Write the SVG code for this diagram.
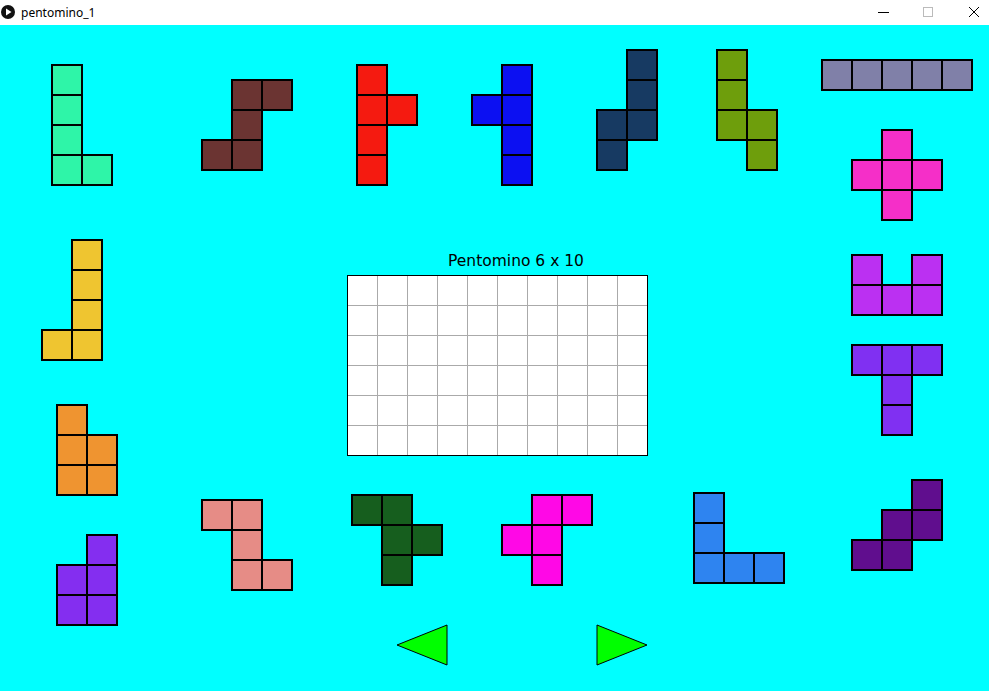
<svg xmlns="http://www.w3.org/2000/svg" width="989" height="691" viewBox="0 0 989 691">
<style>
.c{stroke:#000;stroke-width:2}
.g{stroke:#aaaaaa;stroke-width:1}
.t{font-family:"DejaVu Sans","Liberation Sans",sans-serif;font-size:15.5px;fill:#000}
.tb{font-family:"Segoe UI","Noto Sans","Liberation Sans",sans-serif;font-size:12px;fill:#000}
.btn{fill:#00ff00;stroke:#000;stroke-width:1}
</style>
<defs>
<rect id="cell" width="30" height="30"/>
</defs>
<!-- title bar -->
<g id="titlebar">
<rect x="0" y="0" width="989" height="25" fill="#fff"/>
<circle cx="8" cy="12" r="7" fill="#111"/>
<polygon points="6,8.5 6,15.5 11.5,12" fill="#fff"/>
<text class="tb" x="21" y="16.5">pentomino_1</text>
<line x1="878" y1="12.5" x2="889" y2="12.5" stroke="#000" stroke-width="1"/>
<rect x="923.5" y="7.5" width="9" height="9" fill="none" stroke="#bbb" stroke-width="1"/>
<path d="M969,7 L979,17 M979,7 L969,17" stroke="#000" stroke-width="1"/>
</g>
<rect x="0" y="25" width="989" height="666" fill="#00ffff"/>
<!-- board -->
<g id="board">
<text class="t" x="516" y="266" text-anchor="middle">Pentomino 6 x 10</text>
<rect x="347.5" y="275.5" width="300" height="180" fill="#fff"/>
<g class="g">
<line x1="377.5" y1="275.5" x2="377.5" y2="455.5"/>
<line x1="407.5" y1="275.5" x2="407.5" y2="455.5"/>
<line x1="437.5" y1="275.5" x2="437.5" y2="455.5"/>
<line x1="467.5" y1="275.5" x2="467.5" y2="455.5"/>
<line x1="497.5" y1="275.5" x2="497.5" y2="455.5"/>
<line x1="527.5" y1="275.5" x2="527.5" y2="455.5"/>
<line x1="557.5" y1="275.5" x2="557.5" y2="455.5"/>
<line x1="587.5" y1="275.5" x2="587.5" y2="455.5"/>
<line x1="617.5" y1="275.5" x2="617.5" y2="455.5"/>
<line x1="347.5" y1="305.5" x2="647.5" y2="305.5"/>
<line x1="347.5" y1="335.5" x2="647.5" y2="335.5"/>
<line x1="347.5" y1="365.5" x2="647.5" y2="365.5"/>
<line x1="347.5" y1="395.5" x2="647.5" y2="395.5"/>
<line x1="347.5" y1="425.5" x2="647.5" y2="425.5"/>
</g>
<rect x="347.5" y="275.5" width="300" height="180" fill="none" stroke="#000" stroke-width="1"/>
</g>
<!-- pieces -->
<g id="piece-L-teal" class="c" fill="#2ef5a8">
<use href="#cell" x="52" y="65"/><use href="#cell" x="52" y="95"/><use href="#cell" x="52" y="125"/><use href="#cell" x="52" y="155"/><use href="#cell" x="82" y="155"/>
</g>
<g id="piece-brown" class="c" fill="#6b3432">
<use href="#cell" x="232" y="80"/><use href="#cell" x="262" y="80"/><use href="#cell" x="232" y="110"/><use href="#cell" x="202" y="140"/><use href="#cell" x="232" y="140"/>
</g>
<g id="piece-red" class="c" fill="#f51a10">
<use href="#cell" x="357" y="65"/><use href="#cell" x="357" y="95"/><use href="#cell" x="387" y="95"/><use href="#cell" x="357" y="125"/><use href="#cell" x="357" y="155"/>
</g>
<g id="piece-blue" class="c" fill="#0c10f2">
<use href="#cell" x="502" y="65"/><use href="#cell" x="472" y="95"/><use href="#cell" x="502" y="95"/><use href="#cell" x="502" y="125"/><use href="#cell" x="502" y="155"/>
</g>
<g id="piece-navy" class="c" fill="#173a62">
<use href="#cell" x="627" y="50"/><use href="#cell" x="627" y="80"/><use href="#cell" x="597" y="110"/><use href="#cell" x="627" y="110"/><use href="#cell" x="597" y="140"/>
</g>
<g id="piece-olive" class="c" fill="#6e9e0c">
<use href="#cell" x="717" y="50"/><use href="#cell" x="717" y="80"/><use href="#cell" x="717" y="110"/><use href="#cell" x="747" y="110"/><use href="#cell" x="747" y="140"/>
</g>
<g id="piece-grey" class="c" fill="#8080a8">
<use href="#cell" x="822" y="60"/><use href="#cell" x="852" y="60"/><use href="#cell" x="882" y="60"/><use href="#cell" x="912" y="60"/><use href="#cell" x="942" y="60"/>
</g>
<g id="piece-pink" class="c" fill="#f52fc8">
<use href="#cell" x="882" y="130"/><use href="#cell" x="852" y="160"/><use href="#cell" x="882" y="160"/><use href="#cell" x="912" y="160"/><use href="#cell" x="882" y="190"/>
</g>
<g id="piece-yellow" class="c" fill="#efc530">
<use href="#cell" x="72" y="240"/><use href="#cell" x="72" y="270"/><use href="#cell" x="72" y="300"/><use href="#cell" x="42" y="330"/><use href="#cell" x="72" y="330"/>
</g>
<g id="piece-U" class="c" fill="#bb30f2">
<use href="#cell" x="852" y="255"/><use href="#cell" x="912" y="255"/><use href="#cell" x="852" y="285"/><use href="#cell" x="882" y="285"/><use href="#cell" x="912" y="285"/>
</g>
<g id="piece-T" class="c" fill="#8030f2">
<use href="#cell" x="852" y="345"/><use href="#cell" x="882" y="345"/><use href="#cell" x="912" y="345"/><use href="#cell" x="882" y="375"/><use href="#cell" x="882" y="405"/>
</g>
<g id="piece-orange" class="c" fill="#ef9430">
<use href="#cell" x="57" y="405"/><use href="#cell" x="57" y="435"/><use href="#cell" x="87" y="435"/><use href="#cell" x="57" y="465"/><use href="#cell" x="87" y="465"/>
</g>
<g id="piece-purple-P" class="c" fill="#842ef0">
<use href="#cell" x="87" y="535"/><use href="#cell" x="57" y="565"/><use href="#cell" x="87" y="565"/><use href="#cell" x="57" y="595"/><use href="#cell" x="87" y="595"/>
</g>
<g id="piece-salmon" class="c" fill="#e68c86">
<use href="#cell" x="202" y="500"/><use href="#cell" x="232" y="500"/><use href="#cell" x="232" y="530"/><use href="#cell" x="232" y="560"/><use href="#cell" x="262" y="560"/>
</g>
<g id="piece-darkgreen" class="c" fill="#165e1e">
<use href="#cell" x="352" y="495"/><use href="#cell" x="382" y="495"/><use href="#cell" x="382" y="525"/><use href="#cell" x="412" y="525"/><use href="#cell" x="382" y="555"/>
</g>
<g id="piece-magenta" class="c" fill="#ff08e6">
<use href="#cell" x="532" y="495"/><use href="#cell" x="562" y="495"/><use href="#cell" x="502" y="525"/><use href="#cell" x="532" y="525"/><use href="#cell" x="532" y="555"/>
</g>
<g id="piece-lightblue" class="c" fill="#2e84f0">
<use href="#cell" x="694" y="493"/><use href="#cell" x="694" y="523"/><use href="#cell" x="694" y="553"/><use href="#cell" x="724" y="553"/><use href="#cell" x="754" y="553"/>
</g>
<g id="piece-W" class="c" fill="#600e8e">
<use href="#cell" x="912" y="480"/><use href="#cell" x="882" y="510"/><use href="#cell" x="912" y="510"/><use href="#cell" x="852" y="540"/><use href="#cell" x="882" y="540"/>
</g>
<!-- buttons -->
<g id="btn-prev"><polygon class="btn" points="397,645 447,625 447,665"/></g>
<g id="btn-next"><polygon class="btn" points="597,625 597,665 647,645"/></g>
<g id="connectors"></g>
</svg>
